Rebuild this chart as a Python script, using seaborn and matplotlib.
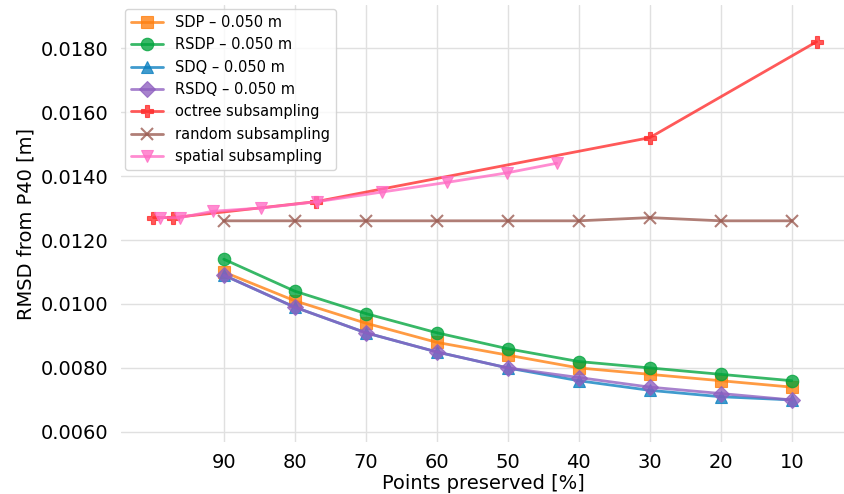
import numpy as np
import pandas as pd
import seaborn as sns
import matplotlib.pyplot as plt

# Points preserved [%] for the simplification methods
pct = [90, 80, 70, 60, 50, 40, 30, 20, 10]
sdp = [0.0110, 0.0101, 0.0094, 0.0088, 0.0084, 0.0080, 0.0078, 0.0076, 0.0074]
rsdp = [0.0114, 0.0104, 0.0097, 0.0091, 0.0086, 0.0082, 0.0080, 0.0078, 0.0076]
sdq = [0.0109, 0.0099, 0.0091, 0.0085, 0.0080, 0.0076, 0.0073, 0.0071, 0.0070]
rsdq = [0.0109, 0.0099, 0.0091, 0.0085, 0.0080, 0.0077, 0.0074, 0.0072, 0.0070]

# subsampling baselines
octree_pct = [99.9, 97.1, 77.0, 30.0, 6.5]
octree = [0.0127, 0.0127, 0.0132, 0.0152, 0.0182]
random_pct = [90, 80, 70, 60, 50, 40, 30, 20, 10]
random_ = [0.0126, 0.0126, 0.0126, 0.0126, 0.0126, 0.0126, 0.0127, 0.0126, 0.0126]
spatial_pct = [99.0, 96.2, 91.5, 84.7, 76.8, 67.7, 58.6, 50.1, 43.1]
spatial = [0.0127, 0.0127, 0.0129, 0.0130, 0.0132, 0.0135, 0.0138, 0.0141, 0.0144]

series = [
    ("SDP – 0.050 m", pct, sdp, "s", "#ff7f0e"),
    ("RSDP – 0.050 m", pct, rsdp, "o", "#00a43c"),
    ("SDQ – 0.050 m", pct, sdq, "^", "#0a7fc0"),
    ("RSDQ – 0.050 m", pct, rsdq, "D", "#8e5fc0"),
    ("octree subsampling", octree_pct, octree, "P", "#ff2a2a"),
    ("random subsampling", random_pct, random_, "x", "#9a5a50"),
    ("spatial subsampling", spatial_pct, spatial, "v", "#ff6cc4"),
]

sns.set_theme(style="whitegrid", rc={"text.color": "black", "axes.labelcolor": "black",
                                     "xtick.color": "black", "ytick.color": "black"})
fig, ax = plt.subplots(figsize=(8.45, 4.94), dpi=100)

for label, x, y, m, c in series:
    df = pd.DataFrame({"x": x, "y": y})
    ms = 9 if m != "D" else 8
    sns.lineplot(data=df, x="x", y="y", ax=ax, label=label, color=c, marker=m,
                 markersize=ms, linewidth=2, alpha=0.78,
                 markeredgecolor=c, markeredgewidth=1.5 if m == "x" else 0.8)

ax.set_xlim(104.5, 2.5)
ax.set_ylim(0.00568, 0.01935)
ax.set_xticks([90, 80, 70, 60, 50, 40, 30, 20, 10])
ax.set_yticks(np.arange(0.006, 0.0181, 0.002))
ax.yaxis.set_major_formatter(plt.FormatStrFormatter("%.4f"))
ax.tick_params(labelsize=14, pad=3)
ax.tick_params(axis="x", pad=2)
ax.set_xlabel("Points preserved [%]", fontsize=14, labelpad=1)
ax.set_ylabel("RMSD from P40 [m]", fontsize=14)
for s in ax.spines.values():
    s.set_visible(False)
ax.grid(color="#e0e0e0", linewidth=1)

ax.legend(loc="upper left", fontsize=10.5, frameon=True, edgecolor="#cccccc",
          borderaxespad=0.3, handlelength=2.2)

fig.subplots_adjust(left=0.143, right=1.0, top=0.99, bottom=0.105)
fig.savefig("out.png", dpi=100)
